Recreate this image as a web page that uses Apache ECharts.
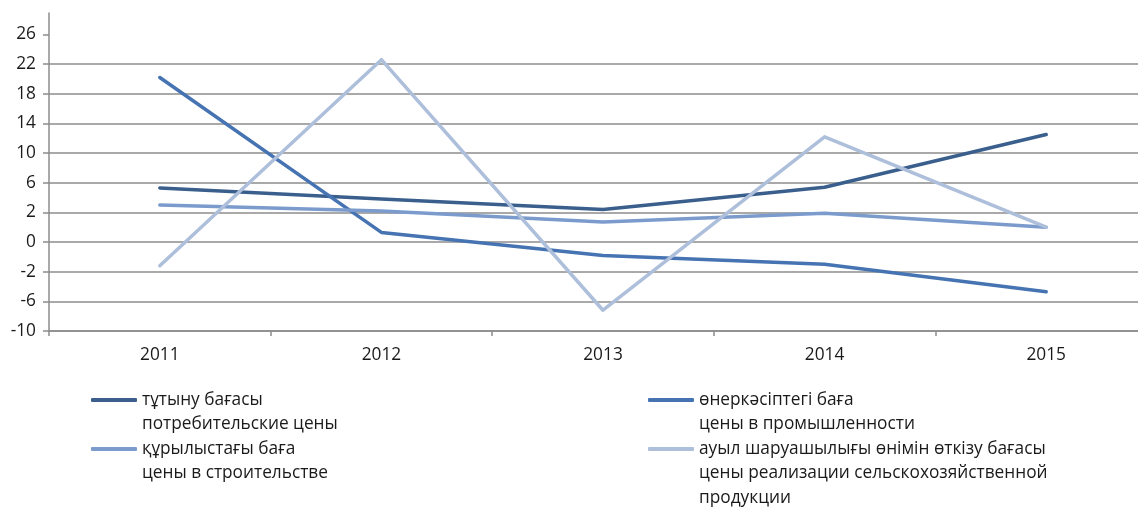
<!DOCTYPE html>
<html>
<head>
<meta charset="utf-8">
<script src="https://cdn.jsdelivr.net/npm/echarts@6/dist/echarts.min.js"></script>
<style>
html,body{margin:0;padding:0;background:#fff;}
#chart{width:1138px;height:507px;}
</style>
</head>
<body>
<div id="chart"></div>
<script>
// Categories
const years = ['2011', '2012', '2013', '2014', '2015'];

// Series names (Kazakh / Russian)
const namesKz = ['тұтыну бағасы', 'өнеркәсіптегі баға', 'құрылыстағы баға', 'ауыл шаруашылығы өнімін өткізу бағасы'];
const namesRu = ['потребительские цены', 'цены в промышленности', 'цены в строительстве', 'цены реализации сельскохозяйственной\nпродукции'];

// Values read on the gridline scale of the picture
const consumer     = [5.3, 3.8, 2.4, 5.4, 12.5];
const industry     = [20.2, -0.7, -3.8, -5.0, -8.7];
const construction = [3.0, 2.2, 0.7, 1.9, 0.0];
const agriculture  = [-5.2, 22.6, -11.2, 12.2, 0.0];

// Y tick positions and the labels printed at them
const yTickValues = [-14, -10, -6, -2, 2, 6, 10, 14, 18, 22, 26];
const yTickLabels = ['-10', '-6', '-2', '0', '2', '6', '10', '14', '18', '22', '26'];

const colors = ['#3a5f8d', '#4673b2', '#7b9bcc', '#adbfda'];
const seriesData = [consumer, industry, construction, agriculture];
const fullNames = namesKz.map((k, i) => k + '\n' + namesRu[i]);

const FONT = 'Open Sans';
const FS = 17.3;
const LH = 24.5;

const chart = echarts.init(document.getElementById('chart'), null, {renderer: 'canvas'});

const legendPos = [
  {left: 91, cy: 400},
  {left: 648, cy: 400},
  {left: 91, cy: 449},
  {left: 648, cy: 449}
];

const legends = fullNames.map((n, i) => {
  const lines = n.split('\n').length;
  const half = (2 * lines - 1) * LH / 2;
  return {
    data: [n],
    left: legendPos[i].left,
    top: legendPos[i].cy - half,
    padding: 0,
    icon: 'roundRect',
    itemWidth: 46,
    itemHeight: 4,
    selectedMode: false,
    formatter: function (name) {
      // blank lines above keep the first text line level with the icon
      return ' \n'.repeat(lines - 1) + name;
    },
    textStyle: {
      fontFamily: FONT,
      fontSize: FS,
      color: '#1a1a1a',
      lineHeight: LH
    }
  };
});

const option = {
  animation: false,
  backgroundColor: '#fff',
  color: colors,
  grid: {left: 49, top: 13, width: 1108, height: 318, containLabel: false, outerBoundsMode: 'none'},
  legend: legends,
  xAxis: {
    type: 'category',
    data: years,
    boundaryGap: true,
    axisLine: {onZero: false, lineStyle: {color: '#8c8c8c', width: 1.5}},
    axisTick: {show: true, interval: 0, length: 5, lineStyle: {color: '#8c8c8c', width: 1.5}},
    axisLabel: {fontFamily: FONT, fontSize: FS, color: '#1a1a1a', margin: 16, interval: 0},
    splitLine: {show: false}
  },
  yAxis: {
    type: 'value',
    min: -14,
    max: 28.9,
    interval: 4,
    axisLine: {show: true, lineStyle: {color: '#8c8c8c', width: 1.5}},
    axisTick: {show: true, length: 6, customValues: yTickValues, lineStyle: {color: '#8c8c8c', width: 1.5}},
    axisLabel: {
      fontFamily: FONT, fontSize: FS, color: '#1a1a1a', margin: 13,
      customValues: yTickValues,
      formatter: function (v) {
        const idx = yTickValues.indexOf(Math.round(v * 10) / 10);
        return idx >= 0 ? yTickLabels[idx] : '';
      }
    },
    splitLine: {show: true, showMaxLine: false, lineStyle: {color: '#8c8c8c', width: 1.5}}
  },
  series: fullNames.map((n, i) => ({
    name: n,
    type: 'line',
    data: seriesData[i],
    symbol: 'none',
    smooth: false,
    lineStyle: {width: 3.5, color: colors[i], cap: 'round', join: 'round'},
    itemStyle: {color: colors[i]},
    z: 2 + i
  }))
};

chart.setOption(option);
</script>
</body>
</html>
